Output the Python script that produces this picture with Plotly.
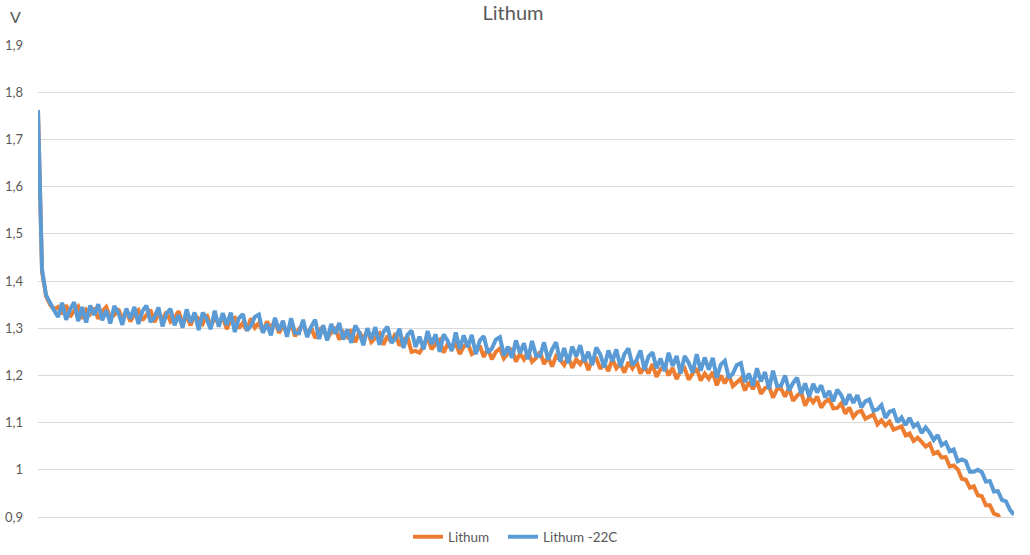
import plotly.graph_objects as go

# Voltage readings (V), one per sample
lithum = [
    1.762, 1.420, 1.368, 1.350, 1.340, 1.345, 1.330, 1.349, 1.324, 1.337,
    1.346, 1.320, 1.339, 1.330, 1.343, 1.320, 1.336, 1.345, 1.322, 1.328,
    1.341, 1.318, 1.336, 1.314, 1.330, 1.338, 1.317, 1.328, 1.339, 1.313,
    1.330, 1.319, 1.335, 1.314, 1.322, 1.336, 1.310, 1.325, 1.306, 1.328,
    1.320, 1.309, 1.329, 1.304, 1.321, 1.311, 1.324, 1.298, 1.319, 1.322,
    1.300, 1.311, 1.295, 1.321, 1.301, 1.311, 1.292, 1.314, 1.300, 1.316,
    1.290, 1.305, 1.290, 1.310, 1.283, 1.299, 1.307, 1.286, 1.302, 1.279,
    1.297, 1.302, 1.278, 1.291, 1.302, 1.276, 1.292, 1.282, 1.297, 1.270,
    1.292, 1.276, 1.295, 1.271, 1.281, 1.289, 1.265, 1.284, 1.270, 1.289,
    1.263, 1.276, 1.281, 1.250, 1.252, 1.248, 1.262, 1.281, 1.255, 1.267,
    1.275, 1.248, 1.267, 1.256, 1.269, 1.245, 1.261, 1.268, 1.245, 1.250,
    1.263, 1.239, 1.257, 1.234, 1.250, 1.257, 1.236, 1.246, 1.257, 1.229,
    1.246, 1.234, 1.250, 1.229, 1.237, 1.250, 1.224, 1.239, 1.219, 1.241,
    1.233, 1.222, 1.241, 1.216, 1.234, 1.224, 1.237, 1.211, 1.233, 1.236,
    1.214, 1.225, 1.209, 1.235, 1.215, 1.225, 1.206, 1.228, 1.215, 1.230,
    1.204, 1.219, 1.204, 1.224, 1.197, 1.213, 1.221, 1.200, 1.216, 1.192,
    1.210, 1.215, 1.191, 1.204, 1.215, 1.189, 1.204, 1.193, 1.207, 1.179,
    1.200, 1.183, 1.201, 1.177, 1.186, 1.193, 1.168, 1.186, 1.171, 1.188,
    1.161, 1.173, 1.177, 1.153, 1.171, 1.172, 1.155, 1.173, 1.146, 1.157,
    1.164, 1.136, 1.154, 1.143, 1.155, 1.132, 1.144, 1.149, 1.130, 1.131,
    1.141, 1.119, 1.132, 1.112, 1.122, 1.125, 1.108, 1.112, 1.117, 1.096,
    1.105, 1.094, 1.102, 1.085, 1.088, 1.092, 1.073, 1.077, 1.061, 1.068,
    1.059, 1.049, 1.055, 1.034, 1.038, 1.026, 1.027, 1.007, 1.009, 1.001,
    0.981, 0.979, 0.962, 0.965, 0.946, 0.944, 0.925, 0.925, 0.907, 0.904,
    0.888, 0.878,
]

lithum_m22c = [
    1.762, 1.425, 1.370, 1.352, 1.338, 1.324, 1.354, 1.318, 1.340, 1.355,
    1.315, 1.345, 1.312, 1.348, 1.328, 1.351, 1.317, 1.338, 1.310, 1.347,
    1.333, 1.307, 1.342, 1.320, 1.345, 1.309, 1.336, 1.348, 1.313, 1.323,
    1.344, 1.304, 1.331, 1.341, 1.306, 1.328, 1.301, 1.340, 1.312, 1.333,
    1.296, 1.333, 1.319, 1.298, 1.337, 1.303, 1.332, 1.307, 1.333, 1.292,
    1.321, 1.330, 1.295, 1.305, 1.324, 1.329, 1.290, 1.309, 1.285, 1.322,
    1.295, 1.316, 1.282, 1.321, 1.290, 1.289, 1.318, 1.281, 1.303, 1.318,
    1.277, 1.306, 1.274, 1.309, 1.288, 1.311, 1.276, 1.297, 1.269, 1.306,
    1.291, 1.264, 1.300, 1.277, 1.302, 1.265, 1.292, 1.303, 1.269, 1.278,
    1.299, 1.258, 1.286, 1.295, 1.260, 1.282, 1.255, 1.294, 1.266, 1.287,
    1.250, 1.287, 1.273, 1.252, 1.291, 1.256, 1.285, 1.260, 1.286, 1.245,
    1.274, 1.283, 1.248, 1.257, 1.276, 1.281, 1.242, 1.261, 1.237, 1.274,
    1.247, 1.268, 1.234, 1.273, 1.242, 1.241, 1.270, 1.233, 1.255, 1.270,
    1.229, 1.258, 1.226, 1.261, 1.240, 1.264, 1.229, 1.250, 1.222, 1.259,
    1.244, 1.217, 1.253, 1.230, 1.255, 1.218, 1.245, 1.257, 1.222, 1.232,
    1.253, 1.212, 1.240, 1.249, 1.215, 1.236, 1.209, 1.248, 1.220, 1.241,
    1.204, 1.241, 1.227, 1.206, 1.245, 1.210, 1.238, 1.212, 1.237, 1.195,
    1.223, 1.231, 1.195, 1.204, 1.222, 1.226, 1.186, 1.204, 1.178, 1.215,
    1.187, 1.207, 1.171, 1.210, 1.178, 1.178, 1.200, 1.168, 1.184, 1.195,
    1.161, 1.183, 1.155, 1.182, 1.164, 1.179, 1.153, 1.167, 1.145, 1.170,
    1.158, 1.138, 1.160, 1.142, 1.158, 1.132, 1.145, 1.149, 1.125, 1.128,
    1.137, 1.110, 1.123, 1.126, 1.101, 1.111, 1.095, 1.110, 1.092, 1.098,
    1.078, 1.090, 1.079, 1.063, 1.074, 1.052, 1.058, 1.039, 1.043, 1.018,
    1.022, 1.018, 0.996, 0.996, 1.000, 0.995, 0.975, 0.976, 0.954, 0.955,
    0.936, 0.933, 0.915, 0.905,
]

y_tick_vals = [0.9, 1.0, 1.1, 1.2, 1.3, 1.4, 1.5, 1.6, 1.7, 1.8, 1.9]
y_tick_text = ["0,9", "1", "1,1", "1,2", "1,3", "1,4", "1,5", "1,6", "1,7", "1,8", "1,9"]

series_names = ["Lithum", "Lithum -22C"]
colors = ["#ED7D31", "#5B9BD5"]
TXT = "#595959"
FONT = "Lato, 'Open Sans', sans-serif"

L, R, T, B = 38, 16, 45, 38
W, H = 1030, 555
PW, PH = W - L - R, H - T - B

fig = go.Figure()
for name, vals, col, lg in zip(series_names, [lithum, lithum_m22c], colors,
                               ["legend", "legend2"]):
    fig.add_trace(go.Scatter(
        x=list(range(len(vals))), y=vals, mode="lines", name=name,
        line=dict(color=col, width=4), legend=lg,
    ))

legend_common = dict(orientation="h", xanchor="left", y=-20 / PH, yanchor="middle",
                     font=dict(size=13.5, color=TXT), itemwidth=30,
                     bgcolor="rgba(0,0,0,0)")

fig.update_layout(
    width=W, height=H,
    margin=dict(l=L, r=R, t=T, b=B, autoexpand=False),
    paper_bgcolor="white", plot_bgcolor="white",
    font=dict(family=FONT, color=TXT, size=13),
    title=dict(text="Lithum", x=(513 - L) / PW, xref="paper", xanchor="center",
               y=1 - 13 / H, yref="container", yanchor="middle",
               font=dict(size=20, color=TXT, family=FONT)),
    showlegend=True,
    legend=dict(x=(408 - L) / PW, **legend_common),
    legend2=dict(x=(503 - L) / PW, **legend_common),
    xaxis=dict(range=[0, len(lithum_m22c) - 1], showticklabels=False, showgrid=False,
               zeroline=False, showline=True, linecolor="#D9D9D9", linewidth=1, ticks="",
               automargin=False),
    yaxis=dict(range=[0.9, 1.9], tickvals=y_tick_vals, ticktext=y_tick_text,
               showgrid=True, gridcolor="#D9D9D9", gridwidth=1, zeroline=False,
               showline=False, ticks="", ticklabelstandoff=14, automargin=False,
               tickfont=dict(size=13, color=TXT)),
    annotations=[dict(text="V", xref="paper", yref="paper", x=(8 - L) / PW,
                      y=1 + 28 / PH, xanchor="left", yanchor="middle", showarrow=False,
                      font=dict(size=16, color=TXT, family=FONT))],
)

fig.write_html("out.html", config={"displayModeBar": False},
               post_script="document.body.style.margin='0px';")
